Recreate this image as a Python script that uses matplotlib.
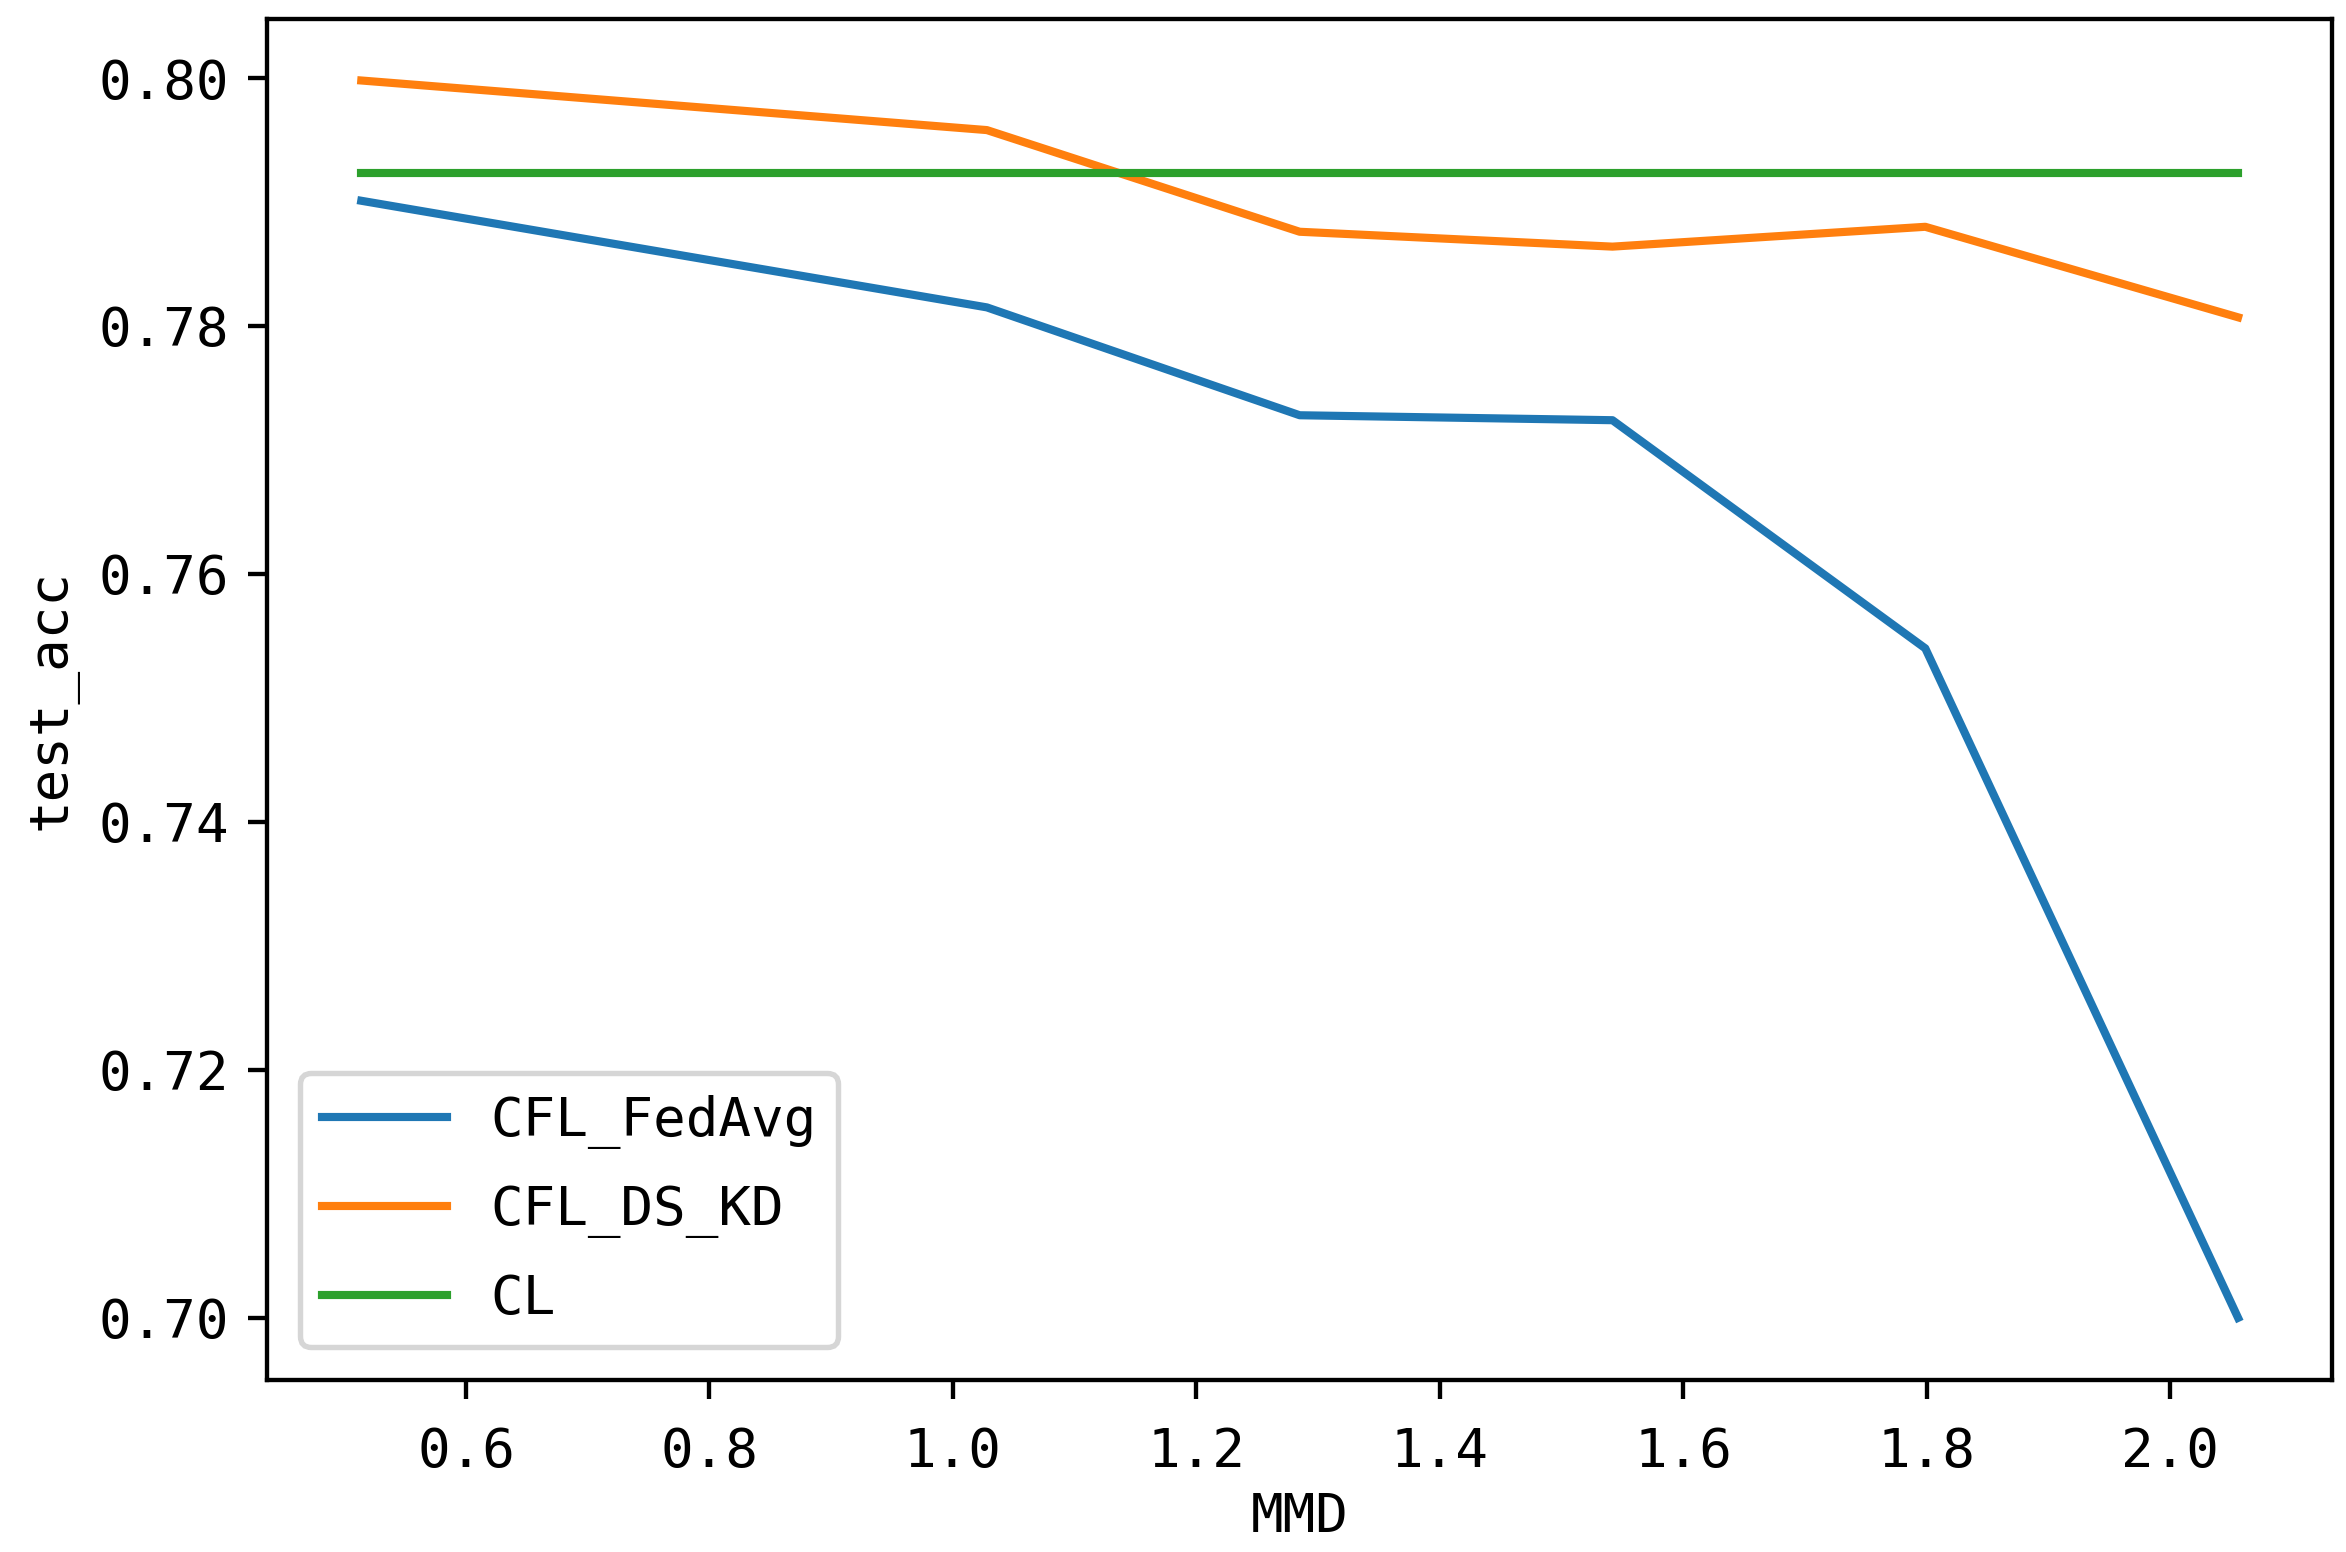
import matplotlib
matplotlib.use("Agg")
import matplotlib.pyplot as plt

# Data
mmd = [0.514, 1.028, 1.285, 1.542, 1.799, 2.056]
cfl_fedavg = [0.7901, 0.7815, 0.7728, 0.7724, 0.7540, 0.7000]
cfl_ds_kd = [0.7998, 0.7958, 0.7876, 0.7864, 0.7880, 0.7807]
cl = [0.7923] * len(mmd)

plt.rcParams['font.family'] = ['DejaVu Sans Mono', 'Noto Sans CJK SC']
plt.rcParams['font.size'] = 10

fig, ax = plt.subplots(figsize=(2346 / 391, 1552 / 391), dpi=391)
fig.subplots_adjust(left=0.114, right=0.994, bottom=0.111, top=0.988)

ax.plot(mmd, cfl_fedavg, label="CFL_FedAvg")
ax.plot(mmd, cfl_ds_kd, label="CFL_DS_KD")
ax.plot(mmd, cl, label="CL")

ax.tick_params(axis="x", pad=5)
ax.set_xlabel("MMD", labelpad=2.5)
ax.set_ylabel("test_acc")
ax.legend(loc="lower left", handlelength=2.3, labelspacing=0.65, borderaxespad=0.6)

fig.savefig("out.png", dpi=391)
